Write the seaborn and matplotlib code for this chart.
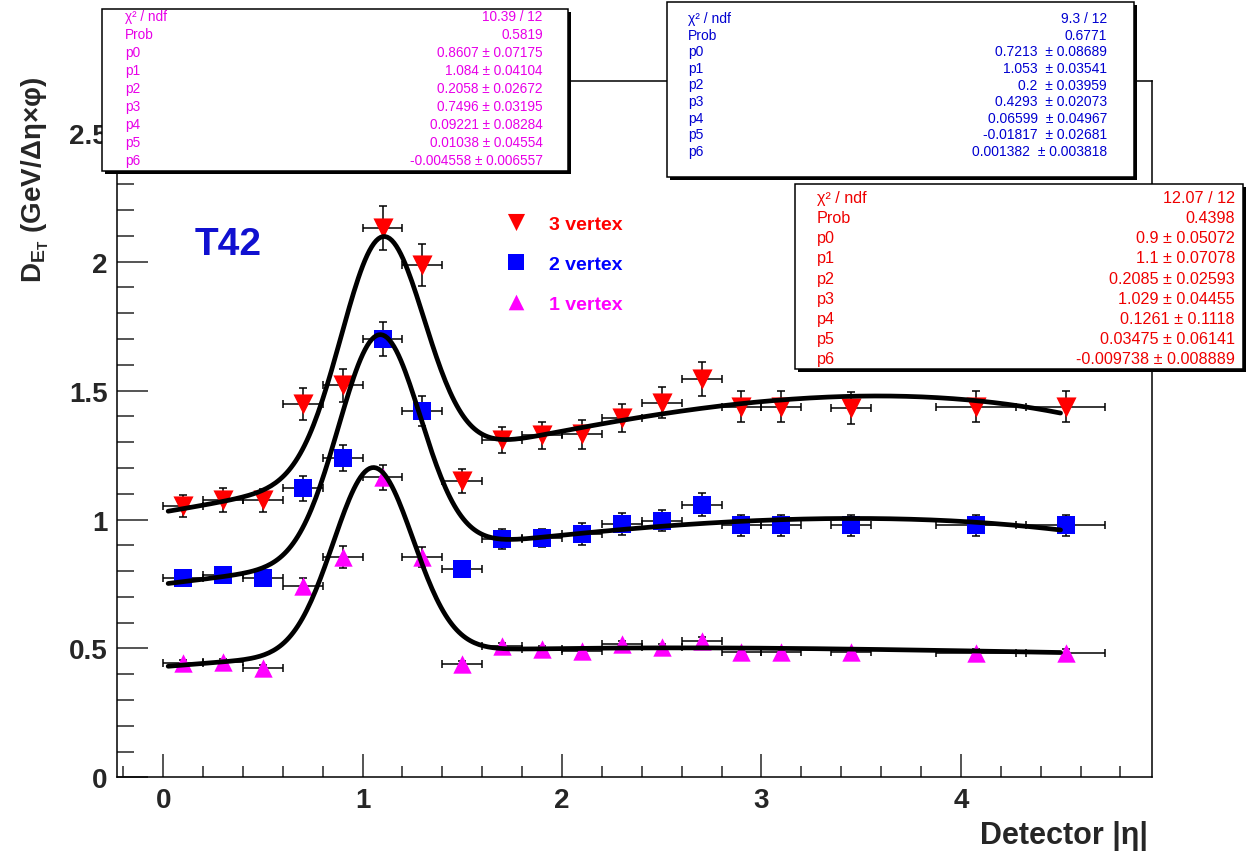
import numpy as np
import matplotlib
matplotlib.use("Agg")
import matplotlib.pyplot as plt
import seaborn as sns
from matplotlib.patches import Rectangle

# bin centres in detector |eta| and their half widths
eta = [0.1, 0.3, 0.5, 0.7, 0.9, 1.1, 1.3, 1.5, 1.7, 1.9, 2.1, 2.3, 2.5, 2.7, 2.9, 3.1, 3.45, 4.075, 4.525]
eta_err = [0.1, 0.1, 0.1, 0.1, 0.1, 0.1, 0.1, 0.1, 0.1, 0.1, 0.1, 0.1, 0.1, 0.1, 0.1, 0.1, 0.1, 0.2, 0.2]

# D_ET for 3 / 2 / 1 vertex events
v3 = [1.051, 1.077, 1.075, 1.448, 1.520, 2.132, 1.988, 1.149, 1.308, 1.326, 1.330, 1.394, 1.453, 1.545, 1.438, 1.438, 1.433, 1.438, 1.438]
v3_err = [0.043, 0.047, 0.045, 0.061, 0.063, 0.085, 0.081, 0.047, 0.052, 0.053, 0.057, 0.055, 0.061, 0.065, 0.059, 0.059, 0.063, 0.059, 0.059]
v2 = [0.773, 0.783, 0.775, 1.121, 1.239, 1.700, 1.422, 0.808, 0.924, 0.930, 0.943, 0.983, 0.995, 1.058, 0.978, 0.978, 0.978, 0.978, 0.978]
v2_err = [0.012, 0.012, 0.012, 0.048, 0.050, 0.067, 0.058, 0.020, 0.039, 0.035, 0.042, 0.042, 0.041, 0.043, 0.041, 0.041, 0.041, 0.041, 0.041]
v1 = [0.443, 0.446, 0.426, 0.743, 0.855, 1.163, 0.855, 0.439, 0.508, 0.497, 0.491, 0.517, 0.504, 0.530, 0.487, 0.487, 0.487, 0.484, 0.484]
v1_err = [0.012, 0.012, 0.010, 0.030, 0.042, 0.050, 0.040, 0.012, 0.015, 0.012, 0.012, 0.012, 0.012, 0.015, 0.012, 0.012, 0.012, 0.012, 0.012]

# fit results printed in the three stat boxes (gaus + pol3)
fit_names = ["p0", "p1", "p2", "p3", "p4", "p5", "p6"]
fitA_chi2, fitA_prob = 10.39, 0.5819      # magenta box -> 2 vertex
fitA_par = [0.8607, 1.084, 0.2058, 0.7496, 0.09221, 0.01038, -0.004558]
fitA_err = [0.07175, 0.04104, 0.02672, 0.03195, 0.08284, 0.04554, 0.006557]
fitB_chi2, fitB_prob = 9.3, 0.6771        # blue box -> 1 vertex
fitB_par = [0.7213, 1.053, 0.2, 0.4293, 0.06599, -0.01817, 0.001382]
fitB_err = [0.08689, 0.03541, 0.03959, 0.02073, 0.04967, 0.02681, 0.003818]
fitC_chi2, fitC_prob = 12.07, 0.4398      # red box -> 3 vertex
fitC_par = [0.9, 1.1, 0.2085, 1.029, 0.1261, 0.03475, -0.009738]
fitC_err = [0.05072, 0.07078, 0.02593, 0.04455, 0.1118, 0.06141, 0.008889]
ndf = 12
fit_range = (0.025, 4.5)

x_ticks = [0, 1, 2, 3, 4]
x_tick_labels = ["0", "1", "2", "3", "4"]
y_ticks = [0, 0.5, 1, 1.5, 2, 2.5]
y_tick_labels = ["0", "0.5", "1", "1.5", "2", "2.5"]

W, H = 1249, 853


def fx(px):
    return px / W


def fy(py):
    return 1 - py / H


def fit_func(x, p):
    g = p[0] * np.exp(-0.5 * ((x - p[1]) / p[2]) ** 2)
    return g + p[3] + p[4] * x + p[5] * x ** 2 + p[6] * x ** 3


sns.set_style("ticks")
plt.rcParams["font.family"] = ["Liberation Sans", "DejaVu Sans"]
plt.rcParams["mathtext.fontset"] = "custom"
plt.rcParams["mathtext.rm"] = "Liberation Sans"
plt.rcParams["mathtext.bf"] = "Liberation Sans:bold"
plt.rcParams["mathtext.it"] = "Liberation Sans:italic"

fig = plt.figure(figsize=(W / 100, H / 100), dpi=100)
fig.patch.set_facecolor("white")
ax = fig.add_axes([fx(117.3), fy(778.4), fx(1152.3) - fx(117.3), fy(82.1) - fy(778.4)])

series = [
    (v3, v3_err, "v", "#ff0000", 210, "3 vertex", fitC_par),
    (v2, v2_err, "s", "#0000ff", 175, "2 vertex", fitA_par),
    (v1, v1_err, "^", "#ff00ff", 175, "1 vertex", fitB_par),
]

xs = np.linspace(fit_range[0], fit_range[1], 400)
for vals, errs, mk, col, size, lab, par in series:
    ax.errorbar(eta, vals, xerr=eta_err, yerr=errs, fmt="none", ecolor="black",
                elinewidth=1.1, capsize=2.8, capthick=1.1, zorder=2)
    sns.scatterplot(x=eta, y=vals, marker=mk, color=col, s=size, linewidth=0,
                    ax=ax, zorder=3, label=lab)
    sns.lineplot(x=xs, y=fit_func(xs, par), color="black", linewidth=3.4,
                 estimator=None, sort=False, ax=ax, zorder=4)

ax.set_xlim(-0.23, 4.96)
ax.set_ylim(0, 2.7)
ax.set_xticks(x_ticks)
ax.set_xticklabels(x_tick_labels, fontsize=20, fontweight="bold")
ax.set_yticks(y_ticks)
ax.set_yticklabels(y_tick_labels, fontsize=20, fontweight="bold")
ax.set_xticks(np.arange(-0.2, 4.95, 0.2), minor=True)
ax.set_yticks(np.arange(0, 2.71, 0.1), minor=True)
ax.tick_params(axis="x", which="major", direction="in", length=16.3, width=1.1, pad=7)
ax.tick_params(axis="x", which="minor", direction="in", length=8.2, width=1.1)
ax.tick_params(axis="y", which="major", direction="in", length=22.3, width=1.1, pad=7)
ax.tick_params(axis="y", which="minor", direction="in", length=12, width=1.1)
for sp in ax.spines.values():
    sp.set_visible(True)
    sp.set_linewidth(1.1)
    sp.set_color("black")
ax.set_xlabel("")
ax.set_ylabel("")

leg = ax.legend(loc="upper left", bbox_to_anchor=(fx(506), fy(216)),
                bbox_transform=fig.transFigure, frameon=False,
                prop={"size": 14, "weight": "bold"}, handlelength=1.0,
                handletextpad=1.2, labelspacing=1.15, borderpad=0,
                borderaxespad=0, scatteryoffsets=[0.5], markerscale=0.85)
for txt, s in zip(leg.get_texts(), series):
    txt.set_color(s[3])

ax.text(fx(195), fy(245), "T42", transform=fig.transFigure, ha="left", va="center",
        fontsize=28, fontweight="bold", color="#1010d0")

fig.text(fx(1148), fy(836), "Detector |η|", ha="right", va="center",
         fontsize=22, fontweight="bold")
fig.text(fx(35), fy(180), r"$\mathbf{D_{E_T}}$ (GeV/Δη×φ)", rotation=90,
         ha="center", va="center", fontsize=20, fontweight="bold")


def stat_box(x0, y0, w, h, chi2, prob, par, err, color, size, tx0, tx1, row0, dy, sep):
    fig.add_artist(Rectangle((fx(x0 + 3), fy(y0 + h + 3)), w / W, h / H,
                             transform=fig.transFigure, facecolor="black",
                             edgecolor="black", lw=0, zorder=5))
    fig.add_artist(Rectangle((fx(x0), fy(y0 + h)), w / W, h / H,
                             transform=fig.transFigure, facecolor="white",
                             edgecolor="black", lw=1.1, zorder=6))
    rows = [("χ² / ndf", "{:.4g} / {}".format(chi2, ndf)),
            ("Prob", "{:.4g}".format(prob))]
    for n, p, e in zip(fit_names, par, err):
        rows.append((n, "{:.4g}{}± {:.4g}".format(p, sep, e)))
    for i, (left, right) in enumerate(rows):
        yy = fy(row0 + dy * i)
        fig.text(fx(tx0), yy, left, ha="left", va="center", fontsize=size,
                 color=color, zorder=7)
        fig.text(fx(tx1), yy, right, ha="right", va="center", fontsize=size,
                 color=color, zorder=7)


stat_box(101.7, 10, 466.6, 161.7, fitA_chi2, fitA_prob, fitA_par, fitA_err,
         "#e800e8", 9.8, 125, 542.7, 16.7, 18.05, " ")
stat_box(666.7, 3.3, 467, 175, fitB_chi2, fitB_prob, fitB_par, fitB_err,
         "#0000d0", 10, 688, 1107, 19.3, 16.55, "  ")
stat_box(795, 185, 448, 185, fitC_chi2, fitC_prob, fitC_par, fitC_err,
         "#ee0000", 11.6, 816.7, 1235, 198.3, 20.2, " ")

fig.savefig("out.png", dpi=100, facecolor="white")
